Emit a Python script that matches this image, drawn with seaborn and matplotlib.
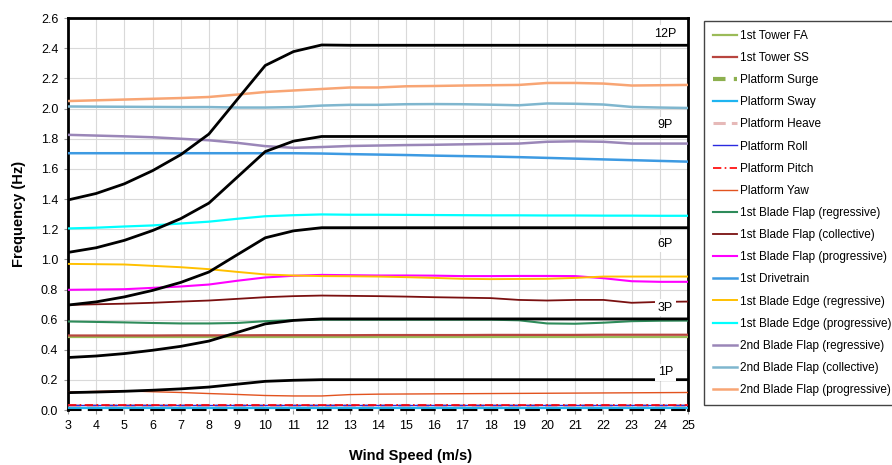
import numpy as np
import pandas as pd
import seaborn as sns
import matplotlib.pyplot as plt

wind = list(range(3, 26))

# rotor harmonics (black lines)
p1 = [0.116, 0.120, 0.125, 0.132, 0.141, 0.153, 0.172, 0.191, 0.198, 0.202, 0.202, 0.202,
      0.202, 0.202, 0.202, 0.202, 0.202, 0.202, 0.202, 0.202, 0.202, 0.202, 0.202]
p3 = [0.349, 0.359, 0.375, 0.397, 0.423, 0.458, 0.515, 0.572, 0.595, 0.605, 0.605, 0.605,
      0.605, 0.605, 0.605, 0.605, 0.605, 0.605, 0.605, 0.605, 0.605, 0.605, 0.605]
p6 = [0.697, 0.718, 0.751, 0.794, 0.847, 0.916, 1.030, 1.143, 1.189, 1.210, 1.210, 1.210,
      1.210, 1.210, 1.210, 1.210, 1.210, 1.210, 1.210, 1.210, 1.210, 1.210, 1.210]
p9 = [1.046, 1.077, 1.126, 1.191, 1.270, 1.373, 1.544, 1.715, 1.784, 1.815, 1.815, 1.815,
      1.815, 1.815, 1.815, 1.815, 1.815, 1.815, 1.815, 1.815, 1.815, 1.815, 1.815]
p12 = [1.394, 1.437, 1.501, 1.588, 1.694, 1.831, 2.059, 2.286, 2.378, 2.422, 2.420, 2.420,
       2.420, 2.420, 2.420, 2.420, 2.420, 2.420, 2.420, 2.420, 2.420, 2.420, 2.420]
harmonic_labels = ["1P", "3P", "6P", "9P", "12P"]
label_y = [0.25, 0.68, 1.105, 1.89, 2.497]

# natural frequencies
tower_fa = [0.488] * 23
tower_ss = [0.495, 0.495, 0.495, 0.495, 0.496, 0.496, 0.496, 0.497, 0.497, 0.497, 0.497, 0.498,
            0.498, 0.498, 0.498, 0.499, 0.499, 0.499, 0.499, 0.500, 0.500, 0.500, 0.500]
surge = [0.008] * 23
sway = [0.013] * 23
heave = [0.031] * 23
roll = [0.034] * 23
pitch = [0.034] * 23
yaw = [0.119, 0.124, 0.128, 0.122, 0.117, 0.110, 0.104, 0.097, 0.094, 0.094, 0.103, 0.106,
       0.107, 0.108, 0.109, 0.110, 0.111, 0.112, 0.113, 0.114, 0.115, 0.116, 0.117]
bf1_reg = [0.588, 0.585, 0.582, 0.578, 0.575, 0.575, 0.578, 0.590, 0.597, 0.600, 0.600, 0.600,
           0.600, 0.600, 0.600, 0.600, 0.596, 0.575, 0.573, 0.580, 0.590, 0.593, 0.594]
bf1_col = [0.698, 0.702, 0.706, 0.712, 0.720, 0.727, 0.738, 0.749, 0.756, 0.760, 0.758, 0.756,
           0.753, 0.749, 0.746, 0.743, 0.731, 0.727, 0.731, 0.731, 0.712, 0.718, 0.720]
bf1_pro = [0.798, 0.800, 0.802, 0.811, 0.820, 0.833, 0.858, 0.880, 0.891, 0.897, 0.895, 0.893,
           0.893, 0.892, 0.889, 0.889, 0.890, 0.890, 0.889, 0.875, 0.855, 0.851, 0.851]
drivetrain = [1.704, 1.704, 1.704, 1.704, 1.704, 1.704, 1.704, 1.704, 1.704, 1.702, 1.698, 1.695,
              1.692, 1.688, 1.685, 1.682, 1.678, 1.673, 1.668, 1.663, 1.658, 1.653, 1.648]
be1_reg = [0.970, 0.968, 0.966, 0.957, 0.948, 0.935, 0.917, 0.900, 0.893, 0.889, 0.888, 0.886,
           0.882, 0.877, 0.871, 0.869, 0.870, 0.871, 0.877, 0.886, 0.886, 0.886, 0.886]
be1_pro = [1.205, 1.210, 1.218, 1.225, 1.238, 1.250, 1.269, 1.286, 1.293, 1.298, 1.296, 1.296,
           1.295, 1.294, 1.293, 1.292, 1.292, 1.291, 1.291, 1.290, 1.290, 1.289, 1.289]
bf2_reg = [1.826, 1.821, 1.816, 1.810, 1.800, 1.790, 1.773, 1.751, 1.740, 1.745, 1.752, 1.755,
           1.758, 1.760, 1.763, 1.766, 1.768, 1.780, 1.783, 1.780, 1.768, 1.768, 1.768]
bf2_col = [2.014, 2.013, 2.012, 2.011, 2.010, 2.010, 2.007, 2.007, 2.010, 2.020, 2.025, 2.025,
           2.029, 2.030, 2.029, 2.026, 2.022, 2.034, 2.032, 2.027, 2.011, 2.007, 2.004]
bf2_pro = [2.050, 2.055, 2.060, 2.065, 2.070, 2.077, 2.093, 2.110, 2.120, 2.130, 2.140, 2.140,
           2.148, 2.150, 2.153, 2.155, 2.157, 2.170, 2.170, 2.166, 2.153, 2.155, 2.157]

modes = ["1st Tower FA", "1st Tower SS", "Platform Surge", "Platform Sway", "Platform Heave",
         "Platform Roll", "Platform Pitch", "Platform Yaw", "1st Blade Flap (regressive)",
         "1st Blade Flap (collective)", "1st Blade Flap (progressive)", "1st Drivetrain",
         "1st Blade Edge (regressive)", "1st Blade Edge (progressive)",
         "2nd Blade Flap (regressive)", "2nd Blade Flap (collective)",
         "2nd Blade Flap (progressive)"]
mode_values = [tower_fa, tower_ss, surge, sway, heave, roll, pitch, yaw, bf1_reg, bf1_col,
               bf1_pro, drivetrain, be1_reg, be1_pro, bf2_reg, bf2_col, bf2_pro]
colors = ["#9BBB59", "#B8453F", "#8DB04F", "#1FB4F0", "#E6B9B8", "#2A2AE0", "#FF0000",
          "#E2531F", "#2E8B5A", "#7A1010", "#FF00FF", "#3D9AE2", "#FFC000", "#00FFFF",
          "#9A86B8", "#7FB6CE", "#F8A574"]
styles = [("-", 1.6), ("-", 1.6), ((0, (3, 2)), 3.0), ("-", 1.6), ((0, (4, 2)), 2.2),
          ("-", 1.0), ((0, (5, 2, 1, 2)), 1.2), ("-", 1.0), ("-", 1.5), ("-", 1.3),
          ("-", 1.5), ("-", 1.8), ("-", 1.4), ("-", 1.6), ("-", 1.8), ("-", 1.8), ("-", 1.8)]

plt.rcParams['font.family'] = ['Liberation Sans', 'DejaVu Sans']
fig = plt.figure(figsize=(8.92, 4.65), dpi=100)
ax = fig.add_axes([0.0762, 0.118, 0.6951, 0.843])

for name, vals, c, (ls, lw) in zip(modes, mode_values, colors, styles):
    df = pd.DataFrame({"wind": wind, "freq": vals})
    sns.lineplot(data=df, x="wind", y="freq", ax=ax, color=c, lw=lw, ls=ls, label=name,
                 zorder=3)

for vals in [p1, p3, p6, p9, p12]:
    df = pd.DataFrame({"wind": wind, "freq": vals})
    sns.lineplot(data=df, x="wind", y="freq", ax=ax, color="black", lw=2.0,
                 label="_nolegend_", zorder=4)

for lab, yy in zip(harmonic_labels, label_y):
    ax.text(24.2, yy, lab, fontsize=9, ha="center", va="center", zorder=6,
            bbox=dict(facecolor="white", edgecolor="none", pad=1.8))

ax.set_xlim(3, 25)
ax.set_ylim(0, 2.6)
ax.set_xticks(range(3, 26))
ax.set_yticks(np.arange(0, 2.61, 0.2))
ax.set_yticklabels([f"{v:.1f}" for v in np.arange(0, 2.61, 0.2)])
ax.grid(True, color="#d9d9d9", lw=0.8)
ax.set_axisbelow(True)
ax.tick_params(labelsize=9, length=3, color="#999999", pad=4)
for s in ["top", "left", "right"]:
    ax.spines[s].set_linewidth(2.0)
    ax.spines[s].set_color("black")
ax.spines["bottom"].set_linewidth(1.5)
ax.spines["bottom"].set_linestyle((0, (6, 4)))
ax.spines["bottom"].set_zorder(5)

ax.set_xlabel("Wind Speed (m/s)", fontsize=10.5, fontweight="bold")
ax.set_ylabel("Frequency (Hz)", fontsize=10.5, fontweight="bold")
ax.xaxis.set_label_coords(0.552, -0.1)
ax.yaxis.set_label_coords(-0.068, 0.5)

handles, labels = ax.get_legend_handles_labels()
ax.get_legend().remove()
fig.legend(handles, labels, loc="upper left", bbox_to_anchor=(0.7895, 0.955), fontsize=8.5,
           frameon=True, fancybox=False, edgecolor="#444444", framealpha=1,
           borderaxespad=0, labelspacing=0.86, handlelength=2.0, handletextpad=0.3,
           borderpad=0.75)

plt.savefig("out.png", dpi=100)
